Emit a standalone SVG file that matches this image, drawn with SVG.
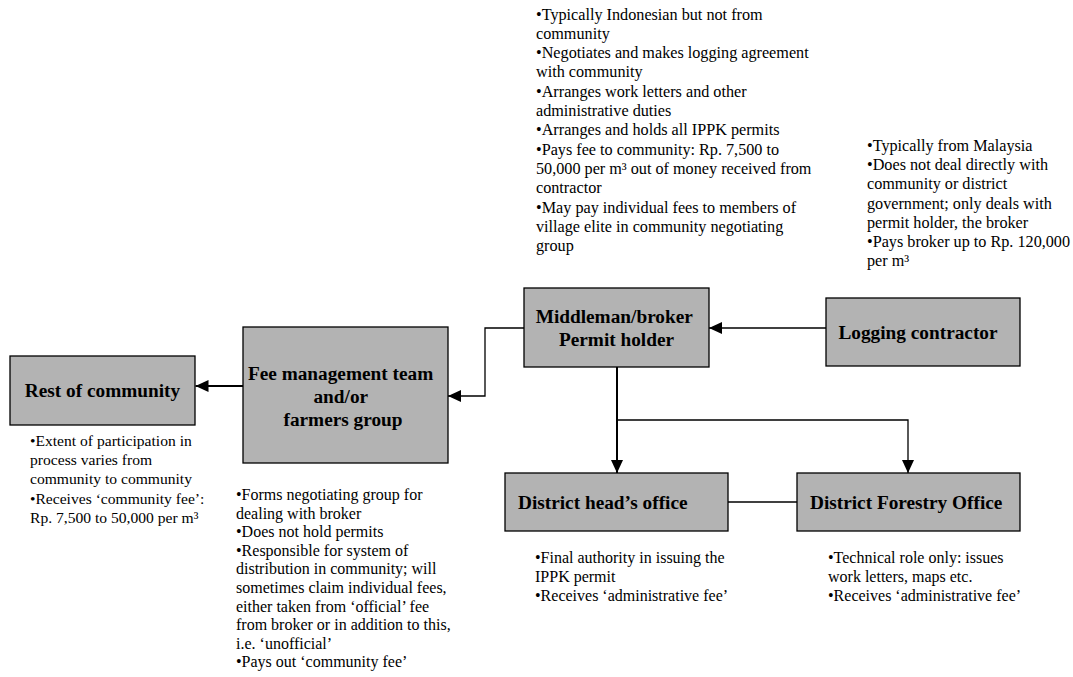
<svg xmlns="http://www.w3.org/2000/svg" width="1073" height="677" viewBox="0 0 1073 677">
<style>
.box{fill:#b3b3b3;stroke:#000;stroke-width:1.3}
.lbl{font-family:"Liberation Serif","Times New Roman",serif;font-weight:bold;font-size:19.3px;fill:#000}
.note{font-family:"Liberation Serif","Times New Roman",serif;font-size:16.2px;fill:#000}
.ln{fill:none;stroke:#000;stroke-width:1.3}
.thk{stroke-width:2}
</style>
<defs>
<marker id="arr" viewBox="0 0 13 12" refX="13" refY="6" markerWidth="13" markerHeight="12" orient="auto" markerUnits="userSpaceOnUse">
<path d="M0,0 L13,6 L0,12 z" fill="#000"/>
</marker>
</defs>
<rect width="1073" height="677" fill="#fff"/>

<g id="connectors">
<line class="ln" x1="826" y1="328" x2="709" y2="328" marker-end="url(#arr)"/>
<polyline class="ln" points="524,328 485,328 485,396 448,396" marker-end="url(#arr)"/>
<line class="ln thk" x1="243" y1="386" x2="195.5" y2="386" marker-end="url(#arr)"/>
<line class="ln thk" x1="617" y1="367" x2="617" y2="473" marker-end="url(#arr)"/>
<polyline class="ln" points="617,420 908,420 908,473" marker-end="url(#arr)"/>
<line class="ln" x1="728" y1="502" x2="797" y2="502"/>
</g>

<g id="rest">
<rect class="box" x="10" y="356" width="185" height="69"/>
<text class="lbl" x="102.5" y="397" text-anchor="middle">Rest of community</text>
<text class="note" style="font-size:15.6px" x="30" y="446">
<tspan x="30">•Extent of participation in</tspan>
<tspan x="30" dy="19.2">process varies from</tspan>
<tspan x="30" dy="19.2">community to community</tspan>
<tspan x="30" dy="19.2">•Receives ‘community fee’:</tspan>
<tspan x="30" dy="19.2">Rp. 7,500 to 50,000 per m³</tspan>
</text>
</g>

<g id="fee">
<rect class="box" x="243" y="327" width="205" height="136"/>
<text class="lbl" text-anchor="middle">
<tspan x="343" y="379.5">Fee management team</tspan>
<tspan x="343" y="402.8">and/or</tspan>
<tspan x="343" y="426">farmers group</tspan>
</text>
<text class="note" style="font-size:16px" x="236" y="500">
<tspan x="236">•Forms negotiating group for</tspan>
<tspan x="236" dy="18.6">dealing with broker</tspan>
<tspan x="236" dy="18.6">•Does not hold permits</tspan>
<tspan x="236" dy="18.6">•Responsible for system of</tspan>
<tspan x="236" dy="18.6">distribution in community; will</tspan>
<tspan x="236" dy="18.6">sometimes claim individual fees,</tspan>
<tspan x="236" dy="18.6">either taken from ‘official’ fee</tspan>
<tspan x="236" dy="18.6">from broker or in addition to this,</tspan>
<tspan x="236" dy="18.6">i.e. ‘unofficial’</tspan>
<tspan x="236" dy="18.6">•Pays out ‘community fee’</tspan>
</text>
</g>

<g id="broker">
<rect class="box" x="524" y="288" width="185" height="79"/>
<text class="lbl" text-anchor="middle">
<tspan x="616.5" y="323.3">Middleman/broker</tspan>
<tspan x="616.5" y="345.7">Permit holder</tspan>
</text>
<text class="note" x="536" y="19.5">
<tspan x="536">•Typically Indonesian but not from</tspan>
<tspan x="536" dy="19.3">community</tspan>
<tspan x="536" dy="19.3">•Negotiates and makes logging agreement</tspan>
<tspan x="536" dy="19.3">with community</tspan>
<tspan x="536" dy="19.3">•Arranges work letters and other</tspan>
<tspan x="536" dy="19.3">administrative duties</tspan>
<tspan x="536" dy="19.3">•Arranges and holds all IPPK permits</tspan>
<tspan x="536" dy="19.3">•Pays fee to community: Rp. 7,500 to</tspan>
<tspan x="536" dy="19.3">50,000 per m³ out of money received from</tspan>
<tspan x="536" dy="19.3">contractor</tspan>
<tspan x="536" dy="19.3">•May pay individual fees to members of</tspan>
<tspan x="536" dy="19.3">village elite in community negotiating</tspan>
<tspan x="536" dy="19.3">group</tspan>
</text>
</g>

<g id="contractor">
<rect class="box" x="826" y="298" width="194" height="68"/>
<text class="lbl" x="918" y="339" text-anchor="middle">Logging contractor</text>
<text class="note" x="867" y="151">
<tspan x="867">•Typically from Malaysia</tspan>
<tspan x="867" dy="19.2">•Does not deal directly with</tspan>
<tspan x="867" dy="19.2">community or district</tspan>
<tspan x="867" dy="19.2">government; only deals with</tspan>
<tspan x="867" dy="19.2">permit holder, the broker</tspan>
<tspan x="867" dy="19.2">•Pays broker up to Rp. 120,000</tspan>
<tspan x="867" dy="19.2">per m³</tspan>
</text>
</g>

<g id="districthead">
<rect class="box" x="505" y="473" width="223" height="58"/>
<text class="lbl" x="518" y="508.5">District head’s office</text>
<text class="note" style="font-size:16px" x="535" y="562.7">
<tspan x="535">•Final authority in issuing the</tspan>
<tspan x="535" dy="19.2">IPPK permit</tspan>
<tspan x="535" dy="19.2">•Receives ‘administrative fee’</tspan>
</text>
</g>

<g id="forestry">
<rect class="box" x="797" y="473" width="223" height="58"/>
<text class="lbl" x="810" y="509">District Forestry Office</text>
<text class="note" style="font-size:16px" x="828" y="562.7">
<tspan x="828">•Technical role only: issues</tspan>
<tspan x="828" dy="19.2">work letters, maps etc.</tspan>
<tspan x="828" dy="19.2">•Receives ‘administrative fee’</tspan>
</text>
</g>
</svg>
